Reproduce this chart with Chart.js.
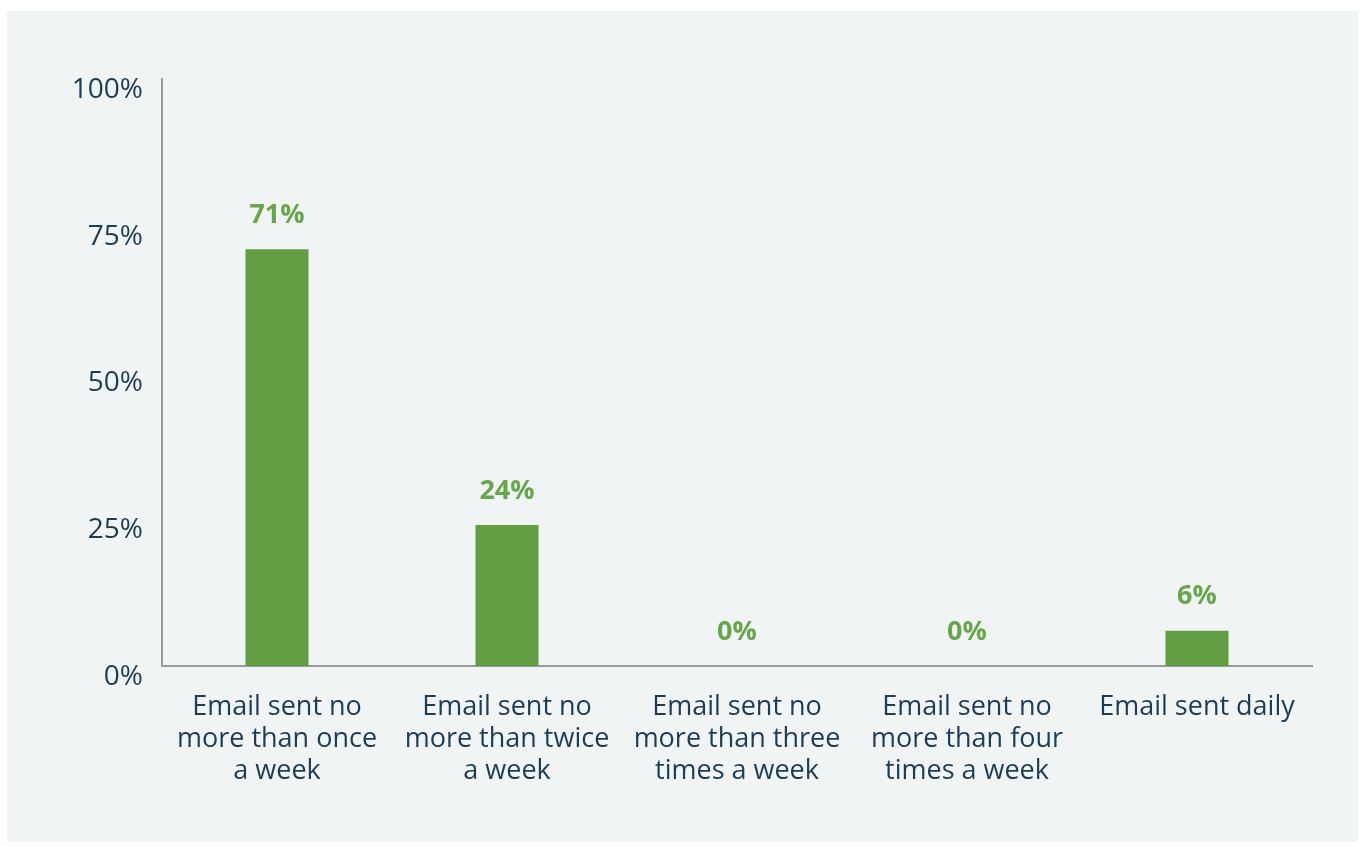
<!DOCTYPE html>
<html>
<head>
<meta charset="utf-8">
<script src="https://cdn.jsdelivr.net/npm/chart.js@4"></script>
<style>
  html, body { margin: 0; padding: 0; background: #ffffff; }
  #wrap { position: absolute; left: 0; top: 0; width: 1364px; height: 846px; }
</style>
</head>
<body>
<div id="wrap"><canvas id="chart" width="1364" height="846"></canvas></div>
<script>
// email frequency categories, shares in percent
const categories = [
    ['Email sent no', 'more than once', 'a week'],
    ['Email sent no', 'more than twice', 'a week'],
    ['Email sent no', 'more than three', 'times a week'],
    ['Email sent no', 'more than four', 'times a week'],
    'Email sent daily'
]
const shares = [71, 24, 0, 0, 6]
const yTicks = [0, 25, 50, 75, 100]

const textColor = '#1e3d52'
const barColor = '#629f42'
const valueColor = '#67a64a'

// light panel behind the chart
const panelBg = {
    id: 'panelBg',
    beforeDraw(chart) {
        const ctx = chart.ctx
        ctx.save()
        ctx.fillStyle = '#f0f4f5'
        ctx.fillRect(7, 11, 1351, 831)
        ctx.restore()
    }
}

// value labels above each bar
const valueLabels = {
    id: 'valueLabels',
    afterDatasetsDraw(chart) {
        const ctx = chart.ctx
        const meta = chart.getDatasetMeta(0)
        ctx.save()
        ctx.font = 'bold 27px "Open Sans"'
        ctx.fillStyle = valueColor
        ctx.textAlign = 'center'
        ctx.textBaseline = 'middle'
        meta.data.forEach((bar, i) => {
            ctx.fillText(shares[i] + '%', bar.x, bar.y - 34)
        })
        ctx.restore()
    }
}

new Chart(document.getElementById('chart').getContext('2d'), {
    type: 'bar',
    data: {
        labels: categories,
        datasets: [{
            data: shares,
            backgroundColor: barColor,
            borderWidth: 0,
            barPercentage: 0.274,
            categoryPercentage: 1
        }]
    },
    options: {
        responsive: false,
        animation: false,
        layout: { padding: { left: 0, top: 79, right: 52, bottom: 0 } },
        plugins: {
            legend: { display: false },
            tooltip: { enabled: false }
        },
        scales: {
            x: {
                grid: { display: false, drawTicks: false },
                border: { display: true, color: '#9a9a9a', width: 2 },
                ticks: {
                    color: textColor,
                    font: { family: '"Open Sans"', size: 27, lineHeight: 1.185 },
                    padding: 25,
                    maxRotation: 0,
                    autoSkip: false
                },
                afterFit(scale) { scale.height = 180 }
            },
            y: {
                min: 0,
                max: 100,
                afterBuildTicks(scale) { scale.ticks = yTicks.map(v => ({ value: v })) },
                grid: { display: false, drawTicks: false },
                border: { display: true, color: '#9a9a9a', width: 2 },
                ticks: {
                    color: textColor,
                    font: { family: '"Open Sans"', size: 28 },
                    padding: 19,
                    labelOffset: 11,
                    callback: v => v + '%'
                },
                afterFit(scale) { scale.width = 162 }
            }
        }
    },
    plugins: [panelBg, valueLabels]
})
</script>
</body>
</html>
